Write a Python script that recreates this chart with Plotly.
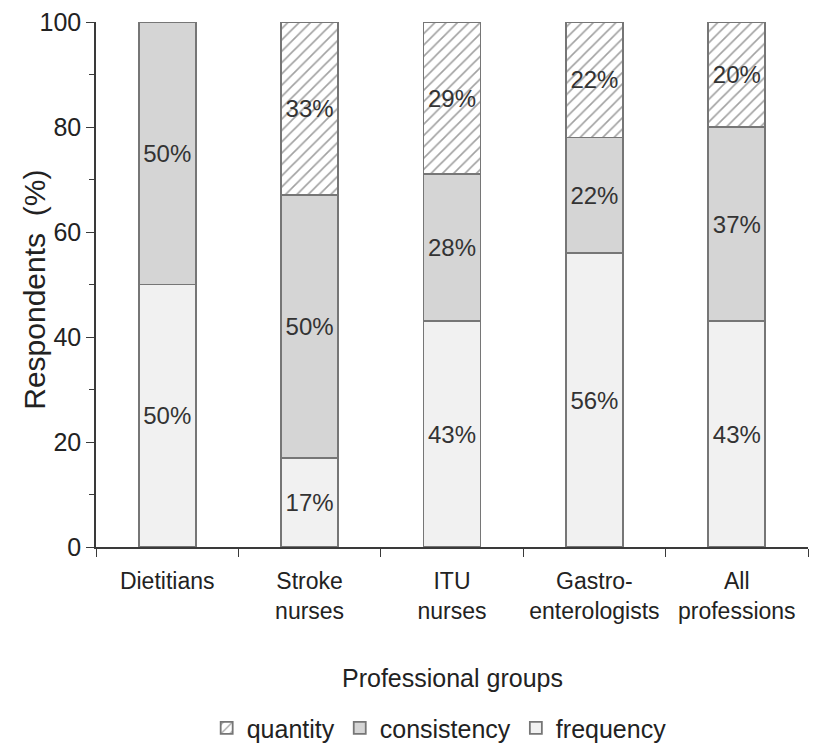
import plotly.graph_objects as go

categories = ["Dietitians", "Stroke<br>nurses", "ITU<br>nurses", "Gastro-<br>enterologists", "All<br>professions"]
frequency = [50, 17, 43, 56, 43]
consistency = [50, 50, 28, 22, 37]
quantity = [0, 33, 29, 22, 20]
y_ticks = [0, 20, 40, 60, 80, 100]

FONT = "Liberation Sans Narrow, Liberation Sans, Arial, sans-serif"
LINE = "#767676"
AX = "#3a3a3a"

def labels(vals):
    return [f"{v}%" if v > 0 else "" for v in vals]

fig = go.Figure()
fig.add_trace(go.Bar(
    name="frequency", x=categories, y=frequency, text=labels(frequency),
    marker=dict(color="#f1f1f1", line=dict(color=LINE, width=1.8)),
))
fig.add_trace(go.Bar(
    name="consistency", x=categories, y=consistency, text=labels(consistency),
    marker=dict(color="#d5d5d5", line=dict(color=LINE, width=1.8)),
))
fig.add_trace(go.Bar(
    name="quantity", x=categories, y=[v if v > 0 else None for v in quantity], text=labels(quantity),
    marker=dict(color="white", line=dict(color=LINE, width=1.8),
                pattern=dict(shape="/", fgcolor="#444444", bgcolor="white", size=8, solidity=0.2)),
))
fig.update_traces(textposition="inside", insidetextanchor="middle",
                  textfont=dict(family=FONT, size=24, color="#333333"),
                  constraintext="none", textangle=0)

fig.update_layout(
    barmode="stack", bargap=0.6,
    width=831, height=752,
    margin=dict(l=88, r=31, t=14, b=213, autoexpand=False),
    plot_bgcolor="white", paper_bgcolor="white",
    font=dict(family=FONT, size=23, color="#222222"),
    showlegend=True,
    legend=dict(orientation="h", x=0.482, xanchor="center", y=-0.345, yanchor="middle",
                traceorder="reversed", font=dict(size=25), itemwidth=30),
    annotations=[
        dict(text="Professional groups", xref="paper", yref="paper", x=0.5, y=-0.2495,
             xanchor="center", yanchor="middle", showarrow=False, font=dict(size=25)),
        dict(text="Respondents  (%)", xref="paper", yref="paper", x=-0.0857, y=0.49,
             xanchor="center", yanchor="middle", textangle=-90, showarrow=False, font=dict(size=30)),
    ],
)
fig.update_xaxes(
    automargin=False, tickangle=0, ticklabeloverflow="allow",
    showline=True, linecolor=AX, linewidth=1.5,
    ticks="outside", tickson="boundaries", ticklen=8, tickcolor=AX,
    tickfont=dict(size=23), ticklabelstandoff=13,
)
fig.update_yaxes(
    automargin=False, ticklabeloverflow="allow",
    range=[0, 100], tickvals=y_ticks,
    showline=True, linecolor=AX, linewidth=1.5,
    ticks="outside", ticklen=8, tickcolor=AX,
    minor=dict(dtick=10, ticks="outside", ticklen=5, tickcolor=AX),
    showgrid=False, zeroline=False,
    tickfont=dict(size=25),
)
fig.write_html("out.html")
